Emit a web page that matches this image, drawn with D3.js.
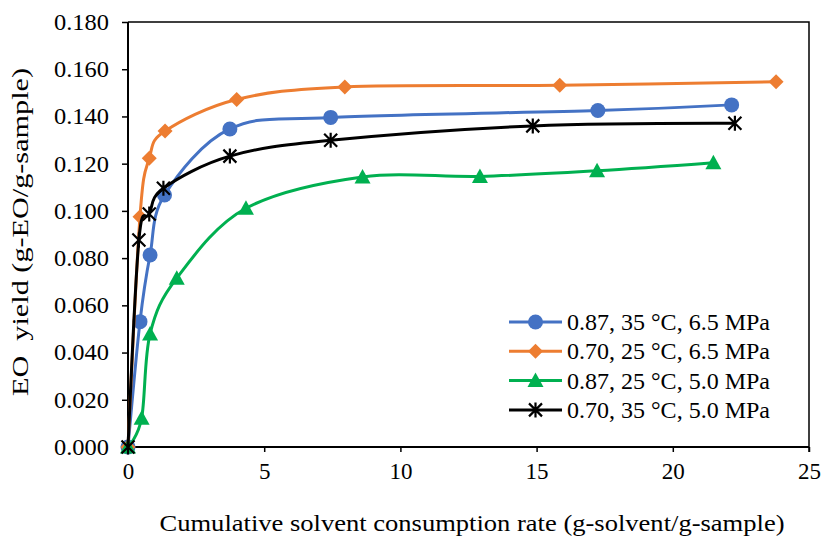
<!DOCTYPE html>
<html>
<head>
<meta charset="utf-8">
<script src="https://cdn.jsdelivr.net/npm/d3@7"></script>
<style>
  body { margin: 0; background: #fff; }
  svg text { font-family: "Liberation Serif", "Times New Roman", serif; fill: #000; }
</style>
</head>
<body>
<div id="chart"></div>
<script>
// Values
const xTicks = [0, 5, 10, 15, 20, 25];
const yTicks = [0, 0.02, 0.04, 0.06, 0.08, 0.10, 0.12, 0.14, 0.16, 0.18];

const blueX = [0, 0.44, 0.81, 1.34, 3.74, 7.44, 17.25, 22.16];
const blueY = [0, 0.0531, 0.0813, 0.1067, 0.1347, 0.1396, 0.1425, 0.1449];

const orangeX = [0, 0.44, 0.78, 1.36, 3.99, 7.96, 15.85, 23.79];
const orangeY = [0, 0.0975, 0.1223, 0.1338, 0.1472, 0.1525, 0.1532, 0.1547];

const greenX = [0, 0.50, 0.81, 1.79, 4.33, 8.61, 12.92, 17.22, 21.49];
const greenY = [0, 0.0122, 0.0479, 0.0715, 0.1011, 0.1144, 0.1146, 0.1170, 0.1204];

const blackX = [0, 0.40, 0.78, 1.30, 3.74, 7.44, 14.86, 22.28];
const blackY = [0, 0.0877, 0.0987, 0.1096, 0.1232, 0.1299, 0.1360, 0.1371];

const seriesNames = [
    '0.87, 35 \u00B0C, 6.5 MPa',
    '0.70, 25 \u00B0C, 6.5 MPa',
    '0.87, 25 \u00B0C, 5.0 MPa',
    '0.70, 35 \u00B0C, 5.0 MPa'
];

const series = [
    { name: seriesNames[0], xs: blueX, ys: blueY, color: '#4472C4', marker: 'circle' },
    { name: seriesNames[1], xs: orangeX, ys: orangeY, color: '#ED7D31', marker: 'diamond' },
    { name: seriesNames[2], xs: greenX, ys: greenY, color: '#00B050', marker: 'triangle' },
    { name: seriesNames[3], xs: blackX, ys: blackY, color: '#000000', marker: 'star' }
];

const width = 822;
const height = 536;
const margin = { top: 22, right: 13, bottom: 89, left: 128 };
const serif = '"Liberation Serif", "Times New Roman", serif';

const svg = d3.select('#chart')
    .append('svg')
    .attr('width', width)
    .attr('height', height);

const x = d3.scaleLinear().domain([0, 25]).range([margin.left, width - margin.right]);
const y = d3.scaleLinear().domain([0, 0.18]).range([height - margin.bottom, margin.top]);

// Frame on top and right
svg.append('path')
    .attr('d', `M${x(0)},${y(0.18)}H${x(25)}V${y(0) + 5}`)
    .attr('fill', 'none')
    .attr('stroke', '#000')
    .attr('stroke-width', 1.5);

// Axes
const xAxis = svg.append('g')
    .attr('transform', `translate(0,${y(0)})`)
    .call(d3.axisBottom(x).tickValues(xTicks).tickSize(5).tickPadding(11).tickFormat(d3.format('d')));

const yAxis = svg.append('g')
    .attr('transform', `translate(${x(0)},0)`)
    .call(d3.axisLeft(y).tickValues(yTicks).tickSize(6).tickPadding(13).tickFormat(d3.format('.3f')));

[xAxis, yAxis].forEach(g => {
    g.select('.domain').attr('stroke', '#000').attr('stroke-width', 2);
    g.selectAll('.tick line').attr('stroke', '#000').attr('stroke-width', 1.5);
    g.selectAll('.tick text')
        .style('font-family', serif)
        .style('font-size', '23px')
        .attr('fill', '#000');
});
yAxis.selectAll('.tick text')
    .attr('textLength', 55)
    .attr('lengthAdjust', 'spacingAndGlyphs');
xAxis.select('.domain').attr('d', `M${x(0)},0H${x(25)}`);
yAxis.select('.domain').attr('d', `M0,${y(0)}V${y(0.18)}`);

// Axis titles
svg.append('text')
    .attr('x', 472)
    .attr('y', 531)
    .attr('text-anchor', 'middle')
    .style('font-size', '24px')
    .attr('textLength', 625)
    .attr('lengthAdjust', 'spacingAndGlyphs')
    .text('Cumulative solvent consumption rate (g-solvent/g-sample)');

svg.append('text')
    .attr('transform', 'translate(28,232) rotate(-90)')
    .attr('text-anchor', 'middle')
    .style('font-size', '24px')
    .style('white-space', 'pre')
    .attr('textLength', 328)
    .attr('lengthAdjust', 'spacingAndGlyphs')
    .text('EO  yield (g-EO/g-sample)');

// Markers
function drawMarker(g, type, color) {
    if (type === 'circle') {
        g.append('circle').attr('r', 7.5).attr('fill', color);
    } else if (type === 'diamond') {
        g.append('path').attr('d', 'M0,-7.5L7.5,0L0,7.5L-7.5,0Z').attr('fill', color);
    } else if (type === 'triangle') {
        g.append('path').attr('d', 'M0,-8L8,6.5L-8,6.5Z').attr('fill', color);
    } else if (type === 'star') {
        g.append('path')
            .attr('d', 'M0,-7.5V7.5M-6.5,-6.5L6.5,6.5M-6.5,6.5L6.5,-6.5')
            .attr('stroke', color)
            .attr('stroke-width', 2.2)
            .attr('fill', 'none');
    }
}

const line = d3.line()
    .x(d => x(d[0]))
    .y(d => y(d[1]))
    .curve(d3.curveCardinal.tension(0));

series.forEach(s => {
    const pts = s.xs.map((v, i) => [v, s.ys[i]]);
    svg.append('path')
        .datum(pts)
        .attr('d', line)
        .attr('fill', 'none')
        .attr('stroke', s.color)
        .attr('stroke-width', 3);

    pts.forEach(p => {
        const g = svg.append('g').attr('transform', `translate(${x(p[0])},${y(p[1])})`);
        drawMarker(g, s.marker, s.color);
    });
});

// Legend
const legend = svg.append('g');
series.forEach((s, i) => {
    const ly = 322 + i * 29.3;
    legend.append('line')
        .attr('x1', 509).attr('x2', 562)
        .attr('y1', ly).attr('y2', ly)
        .attr('stroke', s.color)
        .attr('stroke-width', 3);
    const g = legend.append('g').attr('transform', `translate(535.5,${ly})`);
    drawMarker(g, s.marker, s.color);
    legend.append('text')
        .attr('x', 567)
        .attr('y', ly + 8)
        .style('font-size', '23px')
        .attr('textLength', 203)
        .attr('lengthAdjust', 'spacingAndGlyphs')
        .text(s.name);
});
</script>
</body>
</html>
